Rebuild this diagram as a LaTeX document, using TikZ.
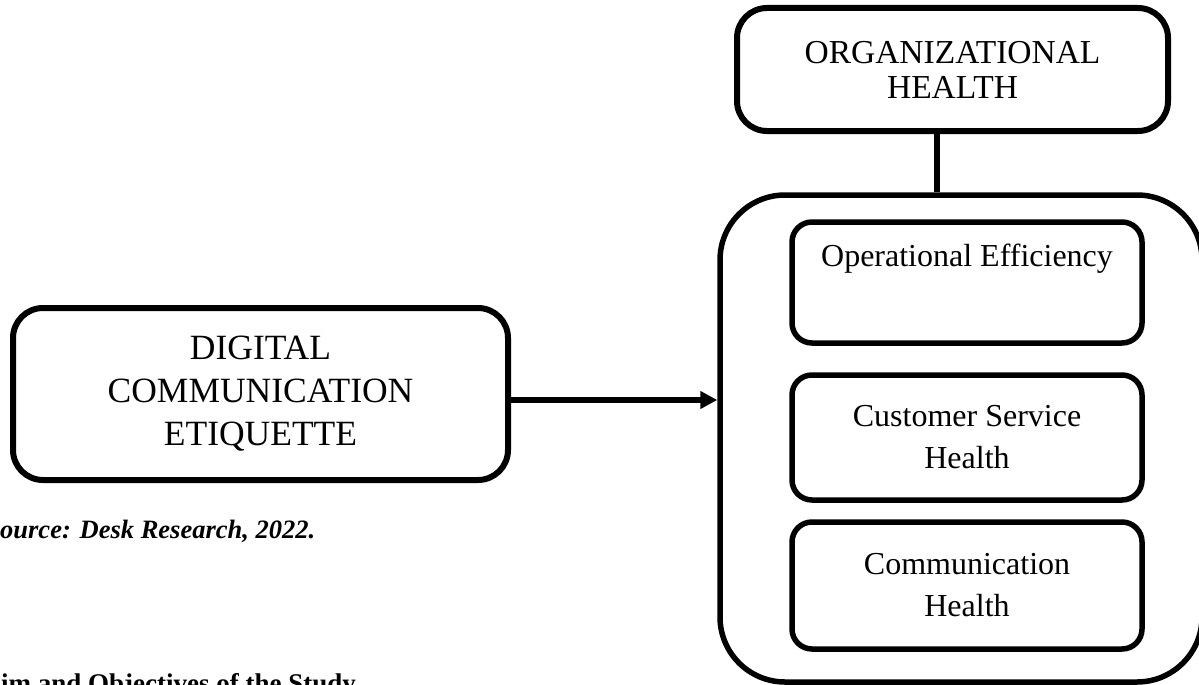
\documentclass[tikz,border=0pt]{standalone}
\usepackage{fontspec}
\setmainfont{Liberation Serif}
\usepackage{tikz}
\usetikzlibrary{arrows.meta}
\tikzstyle{arrow_main} = [line width=6pt,-{Triangle[length=17pt,width=17pt]}]
\tikzstyle{main_box} = [draw, line width=6pt, rounded corners=30pt, align=center]
\tikzstyle{sub_box} = [draw, line width=5.5pt, rounded corners=20pt, align=center, minimum width=350pt, font=\fontsize{32}{42}\selectfont]

\begin{document}
\begin{tikzpicture}[x=1pt, y=-1pt]
    \useasboundingbox (0,0) rectangle (1199,685);
    \clip (0,0) rectangle (1199,685);

    \node (dce) [main_box, minimum width=495pt, minimum height=172pt, font=\fontsize{35.5}{43}\selectfont] at (260.5,394) {DIGITAL\\COMMUNICATION\\ETIQUETTE};
    \node (org_health) [main_box, minimum width=431pt, minimum height=123pt, font=\fontsize{33.5}{35}\selectfont] at (952.5,69.5) {ORGANIZATIONAL\\HEALTH};
    \node (org_group) [draw, line width=5.5pt, rounded corners=65pt, minimum width=482pt, minimum height=487pt] at (961,438.5) {};
    \node (op_eff) [sub_box, minimum height=121pt] at (967,282.5) {Operational Efficiency\\\strut};
    \node (cs_health) [sub_box, minimum height=125pt, below of=op_eff, node distance=155pt] {Customer Service\\Health};
    \node (comm_health) [sub_box, minimum height=127pt, below of=cs_health, node distance=148pt] {Communication\\Health};

    \node (source) [anchor=base west, inner sep=0pt, font=\fontsize{26.5}{30}\selectfont\bfseries\itshape] at (0,538) {ource: Desk Research, 2022.};
    \node (aims) [anchor=base west, inner sep=0pt, font=\fontsize{27}{30}\selectfont\bfseries] at (1,692.5) {im and Objectives of the Study};

    \draw [line width=6pt] ([xshift=-15.5pt]org_health.south) -- ([xshift=-15.5pt]org_health.south |- org_group.north);
    \draw [arrow_main] ([yshift=-6pt]dce.east) -- ([yshift=-6pt]dce.east -| org_group.west);

\end{tikzpicture}
\end{document}
